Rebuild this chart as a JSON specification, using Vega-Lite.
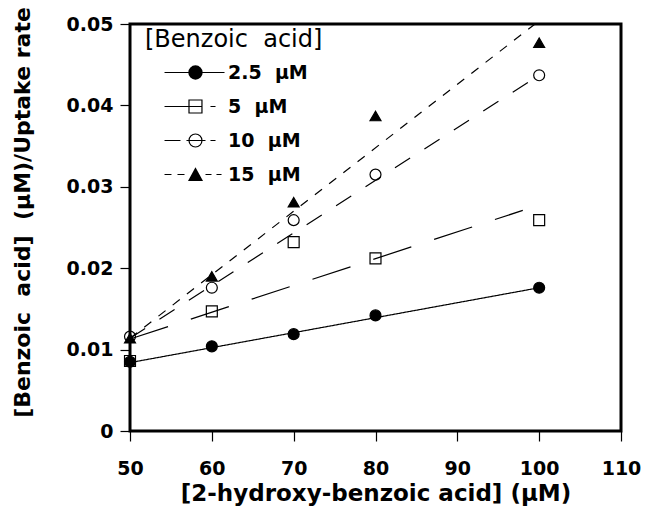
{
  "$schema": "https://vega.github.io/schema/vega-lite/v6.json",
  "width": 491,
  "height": 407,
  "autosize": "none",
  "padding": {"left": 130, "top": 24, "right": 24, "bottom": 78},
  "background": "white",
  "config": {
    "view": {"stroke": "black", "strokeWidth": 3},
    "font": "DejaVu Sans",
    "axis": {
      "labelFont": "DejaVu Sans",
      "labelFontSize": 19,
      "labelFontWeight": "bold",
      "labelColor": "black",
      "titleFont": "DejaVu Sans",
      "titleFontSize": 22,
      "titleFontWeight": "bold",
      "titleColor": "black",
      "tickColor": "black",
      "tickWidth": 1.2,
      "tickSize": 10,
      "grid": false,
      "domain": false
    }
  },
  "datasets": {
    "obs": [
      {"x": 50, "y": 0.0085, "s": "2.5 \u00a0μM"},
      {"x": 60, "y": 0.0104, "s": "2.5 \u00a0μM"},
      {"x": 70, "y": 0.0119, "s": "2.5 \u00a0μM"},
      {"x": 80, "y": 0.0142, "s": "2.5 \u00a0μM"},
      {"x": 100, "y": 0.0176, "s": "2.5 \u00a0μM"},
      {"x": 50, "y": 0.0086, "s": "5 \u00a0μM"},
      {"x": 60, "y": 0.0147, "s": "5 \u00a0μM"},
      {"x": 70, "y": 0.0232, "s": "5 \u00a0μM"},
      {"x": 80, "y": 0.0212, "s": "5 \u00a0μM"},
      {"x": 100, "y": 0.0259, "s": "5 \u00a0μM"},
      {"x": 50, "y": 0.0116, "s": "10 \u00a0μM"},
      {"x": 60, "y": 0.0176, "s": "10 \u00a0μM"},
      {"x": 70, "y": 0.0259, "s": "10 \u00a0μM"},
      {"x": 80, "y": 0.0315, "s": "10 \u00a0μM"},
      {"x": 100, "y": 0.0437, "s": "10 \u00a0μM"},
      {"x": 50, "y": 0.0114, "s": "15 \u00a0μM"},
      {"x": 60, "y": 0.0190, "s": "15 \u00a0μM"},
      {"x": 70, "y": 0.0281, "s": "15 \u00a0μM"},
      {"x": 80, "y": 0.0387, "s": "15 \u00a0μM"},
      {"x": 100, "y": 0.0477, "s": "15 \u00a0μM"}
    ],
    "fits": [
      {"x": 50, "y": 0.0084, "s": "2.5 \u00a0μM"},
      {"x": 100, "y": 0.0176, "s": "2.5 \u00a0μM"},
      {"x": 50, "y": 0.0113, "s": "5 \u00a0μM"},
      {"x": 98, "y": 0.0271, "s": "5 \u00a0μM"},
      {"x": 50, "y": 0.0114, "s": "10 \u00a0μM"},
      {"x": 99.2, "y": 0.0432, "s": "10 \u00a0μM"},
      {"x": 50, "y": 0.0114, "s": "15 \u00a0μM"},
      {"x": 99.5, "y": 0.05, "s": "15 \u00a0μM"}
    ]
  },
  "encoding": {
    "x": {
      "field": "x",
      "type": "quantitative",
      "scale": {"domain": [50, 110], "nice": false, "zero": false},
      "axis": {
        "values": [50, 60, 70, 80, 90, 100, 110],
        "title": "[2-hydroxy-benzoic acid] (μM)",
        "titleFontSize": 23,
        "labelFlush": false,
        "labelPadding": 18,
        "titlePadding": 4
      }
    },
    "y": {
      "field": "y",
      "type": "quantitative",
      "scale": {"domain": [0, 0.05], "nice": false},
      "axis": {
        "values": [0, 0.01, 0.02, 0.03, 0.04, 0.05],
        "format": ".2~f",
        "title": "[Benzoic \u00a0acid] \u00a0(μM)/Uptake rate",
        "titleFontSize": 22,
        "titleY": 188,
        "labelPadding": 7,
        "titlePadding": 32
      }
    }
  },
  "layer": [
    {
      "data": {"name": "fits"},
      "mark": {"type": "line", "color": "black", "strokeWidth": 1.2},
      "encoding": {
        "strokeDash": {
          "field": "s",
          "type": "nominal",
          "scale": {
            "domain": ["2.5 \u00a0μM", "5 \u00a0μM", "10 \u00a0μM", "15 \u00a0μM"],
            "range": [[1, 0], [40, 24], [18, 17], [9, 9]]
          },
          "legend": null
        }
      }
    },
    {
      "data": {"name": "obs"},
      "mark": {"type": "point", "filled": true, "size": 120, "stroke": "black", "strokeWidth": 1.2, "opacity": 1},
      "encoding": {
        "shape": {
          "field": "s",
          "type": "nominal",
          "scale": {
            "domain": ["2.5 \u00a0μM", "5 \u00a0μM", "10 \u00a0μM", "15 \u00a0μM"],
            "range": ["circle", "square", "circle", "triangle-up"]
          },
          "legend": null
        },
        "fill": {
          "field": "s",
          "type": "nominal",
          "scale": {
            "domain": ["2.5 \u00a0μM", "5 \u00a0μM", "10 \u00a0μM", "15 \u00a0μM"],
            "range": ["black", "transparent", "transparent", "black"]
          },
          "legend": null
        }
      }
    },
    {
      "data": {"name": "obs"},
      "mark": {"type": "point", "opacity": 0, "color": "black"},
      "encoding": {
        "shape": {
          "field": "s",
          "type": "nominal",
          "scale": {
            "domain": ["2.5 \u00a0μM", "5 \u00a0μM", "10 \u00a0μM", "15 \u00a0μM"],
            "range": [
              "M1.67,0H11.67M7.93,0A1.1,1.1,0,1,1,5.73,0A1.1,1.1,0,1,1,7.93,0M6.2,-0.9H7.46M6.03,-0.75H7.64M5.91,-0.6H7.75M5.83,-0.45H7.83M5.77,-0.3H7.89M5.74,-0.15H7.92M5.74,0.15H7.92M5.77,0.3H7.89M5.83,0.45H7.83M5.91,0.6H7.75M6.03,0.75H7.64M6.2,0.9H7.46",
              "M1.67,0H8M5.75,-1.08H7.91V1.08H5.75ZM9.33,0H10.17",
              "M1.67,0H4.33M5.33,0H8.5M7.91,0A1.08,1.08,0,1,1,5.75,0A1.08,1.08,0,1,1,7.91,0M9.33,0H10.17",
              "M1.67,0H2.83M3.83,0H5M5.75,1L7.92,1L6.83,-1ZM6.67,-0.7H7M6.59,-0.55H7.08M6.51,-0.4H7.16M6.43,-0.25H7.24M6.35,-0.1H7.32M6.27,0.05H7.41M6.18,0.2H7.49M6.1,0.35H7.57M6.02,0.5H7.65M5.94,0.65H7.73M5.86,0.8H7.81M5.78,0.95H7.89M8.5,0H9.5M10.33,0H11.17"
            ]
          },
          "legend": {
            "title": "[Benzoic \u00a0acid]",
            "orient": "none",
            "legendX": 15,
            "legendY": 4,
            "padding": 0,
            "titleFont": "DejaVu Sans",
            "titleFontSize": 24,
            "titleFontWeight": "normal",
            "titleColor": "black",
            "titlePadding": 11,
            "titleLimit": 400,
            "labelFont": "DejaVu Sans",
            "labelFontSize": 19,
            "labelFontWeight": "bold",
            "labelColor": "black",
            "labelOffset": 64,
            "labelLimit": 300,
            "symbolSize": 144,
            "symbolStrokeWidth": 1.2,
            "rowPadding": 14,
            "symbolOpacity": 1
          }
        }
      }
    }
  ],
  "resolve": {"scale": {"shape": "independent"}}
}
